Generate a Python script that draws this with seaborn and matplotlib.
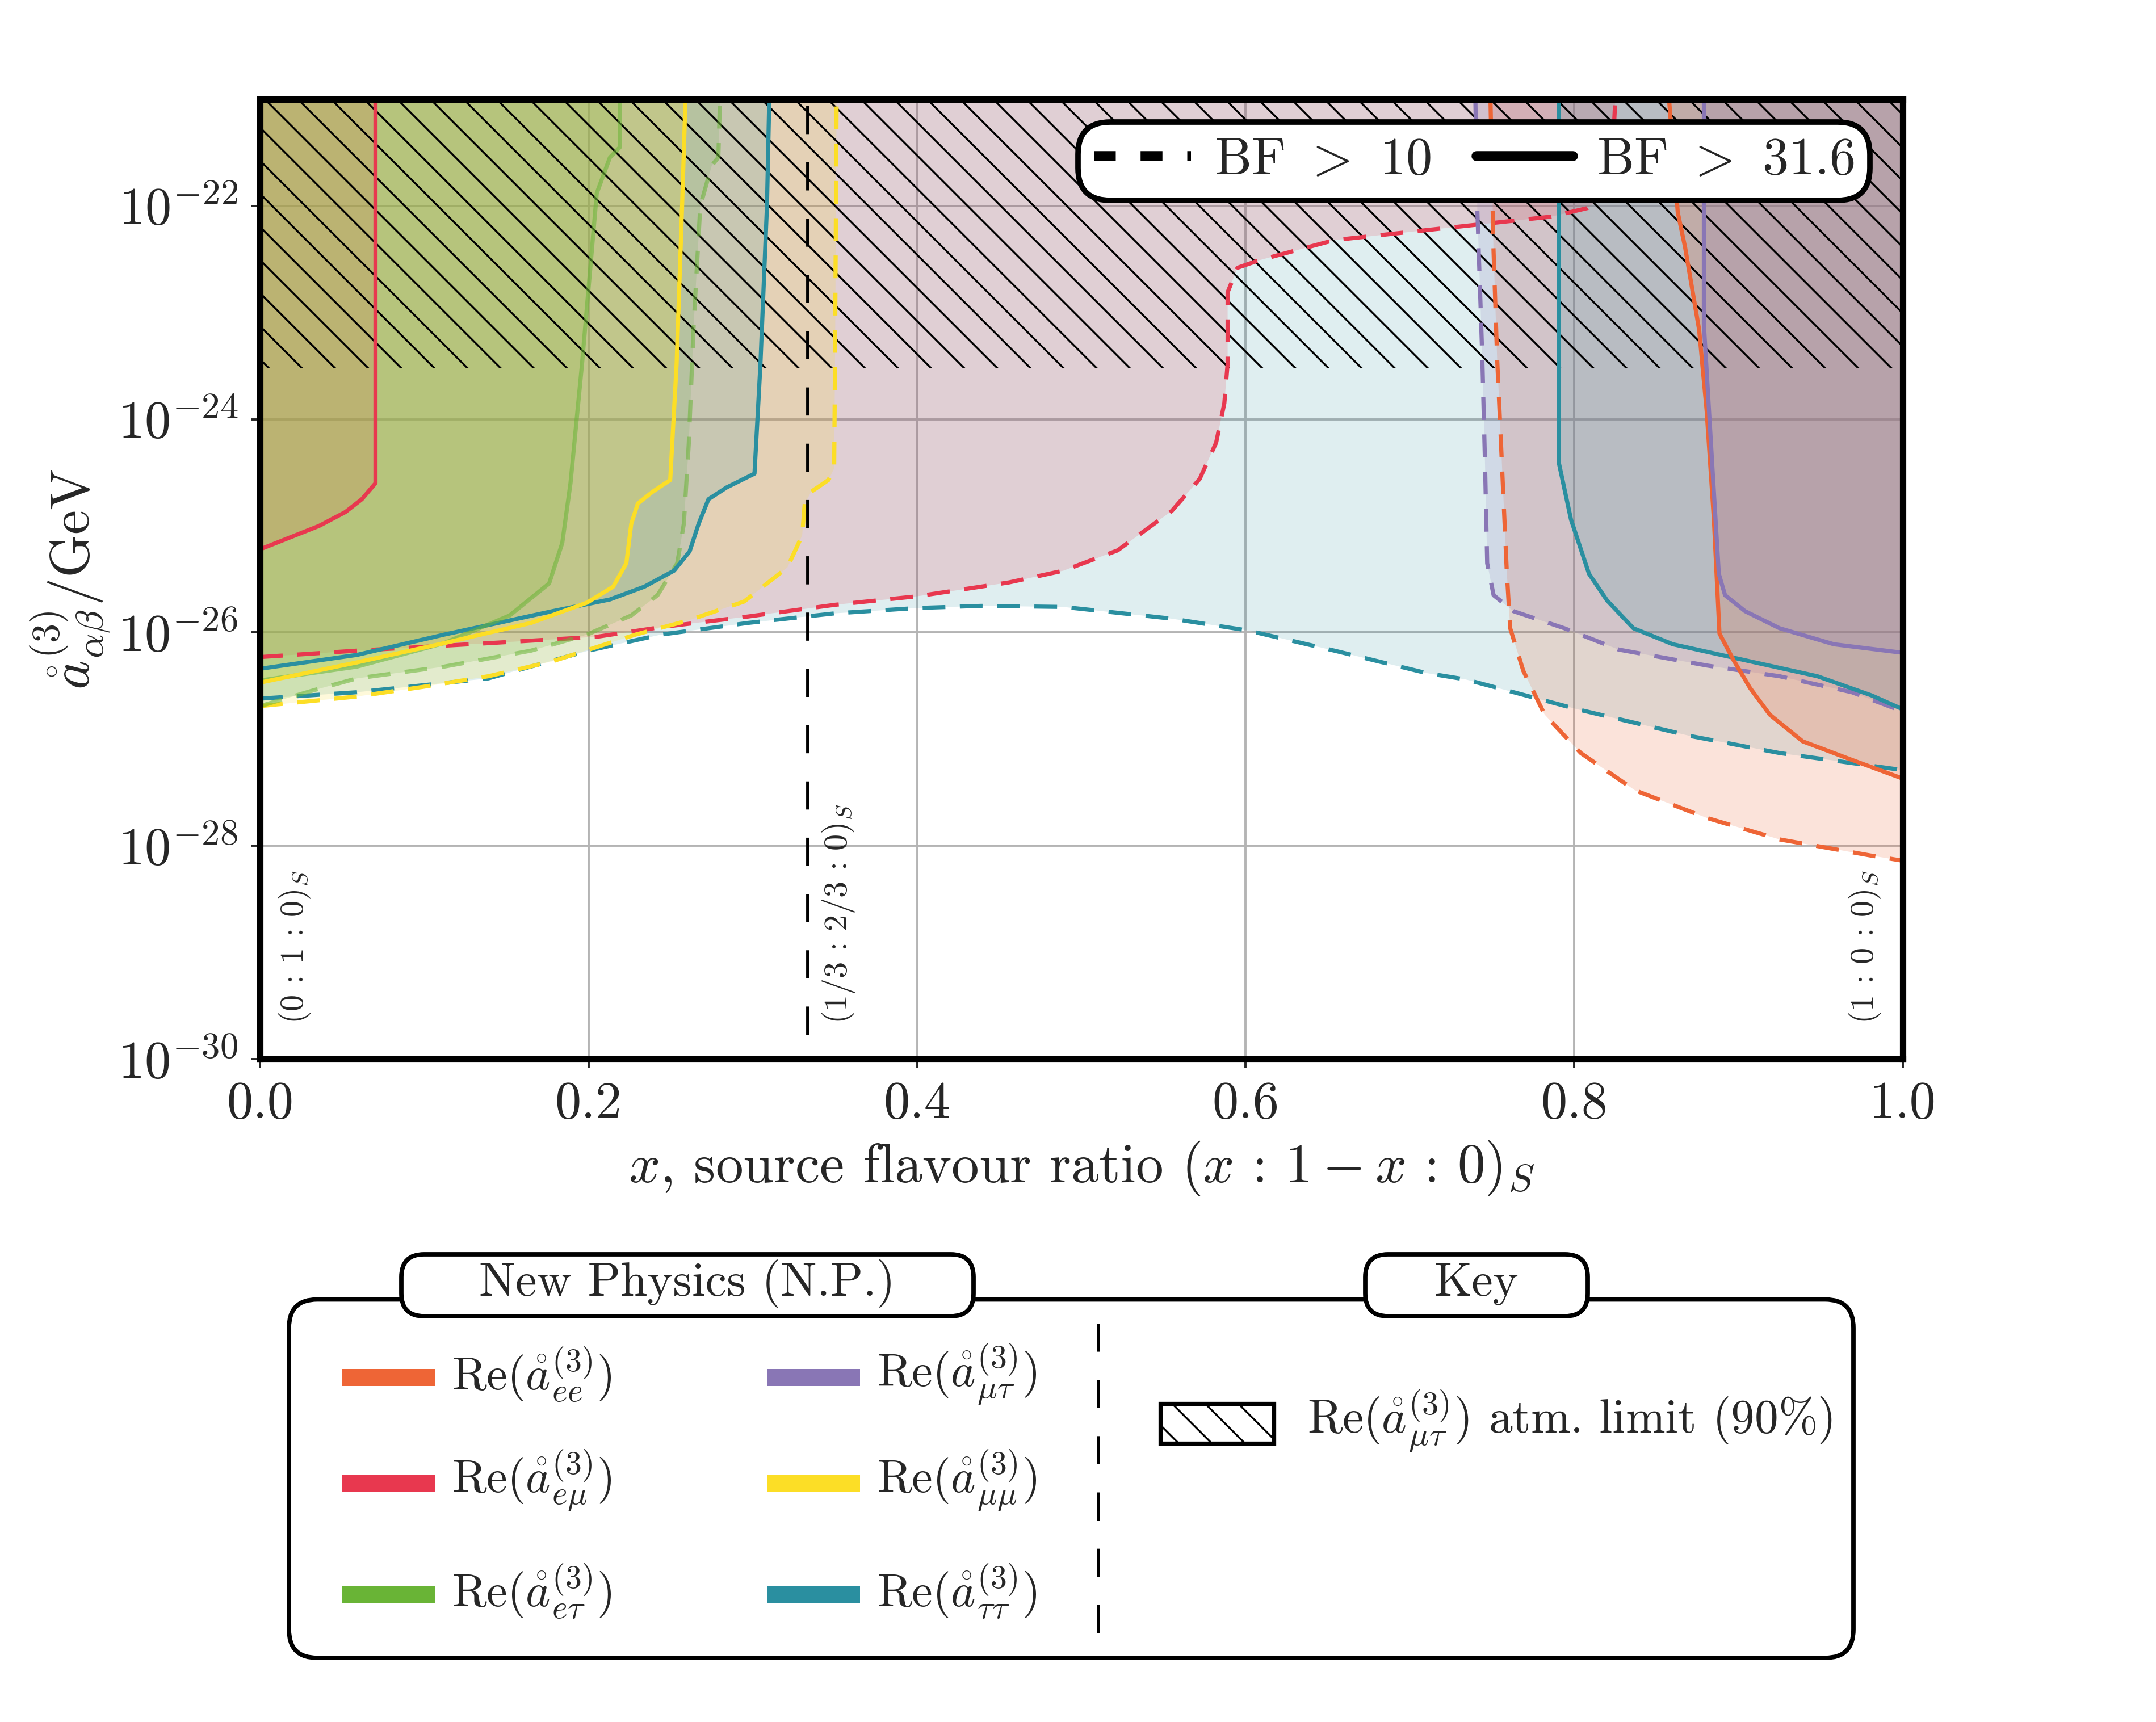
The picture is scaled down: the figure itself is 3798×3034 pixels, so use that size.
import numpy as np
import matplotlib
matplotlib.use("Agg")
import matplotlib.pyplot as plt
import seaborn as sns
from matplotlib.lines import Line2D
from matplotlib.patches import FancyBboxPatch, Rectangle
from matplotlib.ticker import NullLocator

# ==========================================
# DATA (x = source flavour ratio, logy = log10 of coefficient / GeV)
# ==========================================
TOP = -21.0
ATM_LIMIT = -23.52   # log10 of the atmospheric limit (hatched band)

ee_bf10_x = [0.749, 0.7508, 0.753, 0.756, 0.759, 0.761, 0.769, 0.782, 0.804, 0.837, 0.881, 0.925, 0.980, 1.0]
ee_bf10_logy = [-21.0, -22.39, -23.41, -24.43, -25.45, -25.96, -26.36, -26.77, -27.13, -27.48, -27.74, -27.94, -28.09, -28.14]
ee_bf31_x = [0.8577, 0.863, 0.8675, 0.876, 0.8806, 0.885, 0.8884, 0.897, 0.907, 0.919, 0.939, 0.970, 1.0]
ee_bf31_logy = [-21.0, -22.06, -22.39, -23.16, -23.92, -24.94, -26.01, -26.26, -26.52, -26.77, -27.02, -27.20, -27.37]

emu_bf10_x = [0.0, 0.059, 0.139, 0.205, 0.244, 0.297, 0.35, 0.40, 0.456, 0.489, 0.522, 0.555, 0.572,
              0.582, 0.587, 0.589, 0.589, 0.595, 0.608, 0.654, 0.72, 0.786, 0.808, 0.818, 0.823, 0.825]
emu_bf10_logy = [-26.23, -26.17, -26.10, -26.04, -25.95, -25.85, -25.74, -25.66, -25.53, -25.42, -25.23, -24.86, -24.56,
                 -24.22, -23.85, -23.48, -22.81, -22.58, -22.51, -22.32, -22.21, -22.10, -22.02, -21.9, -21.6, -21.0]
emu_bf31_x = [0.0, 0.036, 0.052, 0.062, 0.0703, 0.0703]
emu_bf31_logy = [-25.22, -25.0, -24.87, -24.75, -24.60, -21.0]

etau_bf10_x = [0.0, 0.033, 0.059, 0.112, 0.165, 0.199, 0.226, 0.242, 0.254, 0.258, 0.261, 0.264, 0.268, 0.275, 0.279, 0.280]
etau_bf10_logy = [-26.69, -26.54, -26.43, -26.32, -26.17, -26.02, -25.84, -25.65, -25.35, -24.98, -24.23, -23.11, -22.0, -21.62, -21.545, -21.0]
etau_bf31_x = [0.0, 0.059, 0.112, 0.152, 0.176, 0.184, 0.189, 0.196, 0.205, 0.213, 0.219, 0.219]
etau_bf31_logy = [-26.45, -26.32, -26.10, -25.84, -25.54, -25.16, -24.6, -23.485, -21.88, -21.545, -21.45, -21.0]

mutau_bf10_x = [0.7398, 0.741, 0.744, 0.7457, 0.747, 0.7509, 0.763, 0.794, 0.827, 0.881, 0.925, 0.969, 1.0]
mutau_bf10_logy = [-21.0, -22.04, -23.41, -24.43, -25.35, -25.65, -25.80, -25.96, -26.16, -26.31, -26.41, -26.56, -26.74]
mutau_bf31_x = [0.8789, 0.8789, 0.884, 0.888, 0.8918, 0.904, 0.925, 0.958, 1.0]
mutau_bf31_logy = [-21.0, -23.11, -24.43, -25.45, -25.65, -25.80, -25.96, -26.11, -26.19]

mumu_bf10_x = [0.0, 0.059, 0.099, 0.139, 0.178, 0.2285, 0.260, 0.2946, 0.321, 0.330, 0.3316, 0.3355, 0.346, 0.3495, 0.350, 0.351]
mumu_bf10_logy = [-26.69, -26.60, -26.51, -26.41, -26.27, -26.02, -25.89, -25.71, -25.39, -25.09, -24.79, -24.68, -24.57, -24.46, -23.49, -21.0]
mumu_bf31_x = [0.0, 0.059, 0.112, 0.165, 0.199, 0.215, 0.223, 0.226, 0.230, 0.239, 0.2497, 0.2536, 0.257, 0.259]
mumu_bf31_logy = [-26.47, -26.28, -26.10, -25.91, -25.72, -25.57, -25.35, -24.98, -24.79, -24.68, -24.57, -23.48, -21.97, -21.0]

tautau_bf10_x = [0.0, 0.059, 0.139, 0.2, 0.244, 0.297, 0.35, 0.40, 0.439, 0.489, 0.555, 0.601, 0.654, 0.71, 0.734, 0.802, 0.8706, 0.925, 1.0]
tautau_bf10_logy = [-26.62, -26.56, -26.43, -26.17, -26.02, -25.91, -25.82, -25.77, -25.75, -25.76, -25.87, -25.98, -26.17, -26.38, -26.44, -26.72, -26.97, -27.13, -27.29]
tautau_bf31_left_x = [0.0, 0.059, 0.112, 0.178, 0.213, 0.234, 0.252, 0.2615, 0.267, 0.273, 0.284, 0.301, 0.3046, 0.3086, 0.310]
tautau_bf31_left_logy = [-26.34, -26.21, -26.02, -25.80, -25.69, -25.57, -25.42, -25.24, -24.98, -24.75, -24.64, -24.51, -23.49, -22.0, -21.0]
tautau_bf31_right_x = [0.7905, 0.7905, 0.798, 0.809, 0.82, 0.836, 0.860, 0.904, 0.948, 0.981, 1.0]
tautau_bf31_right_logy = [-21.0, -24.40, -24.94, -25.45, -25.70, -25.96, -26.11, -26.26, -26.41, -26.59, -26.72]

colours = {
    "ee": "#EE6536", "emu": "#E8384F", "etau": "#69B436",
    "mutau": "#8976B5", "mumu": "#FCDE26", "tautau": "#2A8FA0",
}
fill_alpha = {"ee": 0.18, "emu": 0.17, "etau": 0.17, "mutau": 0.17, "mumu": 0.17, "tautau": 0.15}
subscripts = {
    "ee": "ee", "emu": r"e\mu", "etau": r"e\tau",
    "mutau": r"\mu\tau", "mumu": r"\mu\mu", "tautau": r"\tau\tau",
}
legend_order = ["ee", "emu", "etau", "mutau", "mumu", "tautau"]

# (key, x, logy, closing corner(s), linestyle) in drawing order
DASH = (0, (5.5, 3.5))
curves = [
    ("tautau", tautau_bf10_x, tautau_bf10_logy, [(1, TOP), (0, TOP)], DASH),
    ("emu", emu_bf10_x, emu_bf10_logy, [(0, TOP)], DASH),
    ("mumu", mumu_bf10_x, mumu_bf10_logy, [(0, TOP)], DASH),
    ("etau", etau_bf10_x, etau_bf10_logy, [(0, TOP)], DASH),
    ("ee", ee_bf10_x, ee_bf10_logy, [(1, TOP)], DASH),
    ("mutau", mutau_bf10_x, mutau_bf10_logy, [(1, TOP)], DASH),
    ("tautau", tautau_bf31_left_x, tautau_bf31_left_logy, [(0, TOP)], "-"),
    ("tautau", tautau_bf31_right_x, tautau_bf31_right_logy, [(1, TOP)], "-"),
    ("ee", ee_bf31_x, ee_bf31_logy, [(1, TOP)], "-"),
    ("emu", emu_bf31_x, emu_bf31_logy, [(0, TOP)], "-"),
    ("etau", etau_bf31_x, etau_bf31_logy, [(0, TOP)], "-"),
    ("mutau", mutau_bf31_x, mutau_bf31_logy, [(1, TOP)], "-"),
    ("mumu", mumu_bf31_x, mumu_bf31_logy, [(0, TOP)], "-"),
]

ratio_labels = [r"$(0\,:\,1\,:\,0)_S$", r"$(1/3\,:\,2/3\,:\,0)_S$", r"$(1\,:\,0\,:\,0)_S$"]
ratio_label_x = [0.021, 0.352, 0.977]
x_ticks = [0.0, 0.2, 0.4, 0.6, 0.8, 1.0]
x_tick_labels = ["0.0", "0.2", "0.4", "0.6", "0.8", "1.0"]
y_tick_exp = [-30, -28, -26, -24, -22]
bf_labels = [r"BF $>$ 10", r"BF $>$ 31.6"]


def main():
    sns.set_style("white")
    plt.rcParams["font.family"] = ["cmr10", "DejaVu Serif"]
    plt.rcParams["mathtext.fontset"] = "cm"
    plt.rcParams["axes.unicode_minus"] = False
    plt.rcParams["axes.formatter.use_mathtext"] = True
    plt.rcParams["hatch.linewidth"] = 0.7
    plt.rcParams["hatch.color"] = "black"

    W, H, DPI = 3798, 3034, 350
    fig = plt.figure(figsize=(W / DPI, H / DPI), dpi=DPI)
    ax = fig.add_axes([0.12059, 0.38497, 0.76198, 0.55735])
    ax.set_yscale("log")

    # --- filled regions ---
    for key, xs, ly, corners, ls in curves:
        px = list(xs) + [c[0] for c in corners]
        py = 10 ** np.array(list(ly) + [c[1] for c in corners])
        ax.fill(px, py, color=colours[key], alpha=fill_alpha[key], lw=0, zorder=1)

    # atmospheric limit hatch
    ax.fill_between([0, 1], 10 ** ATM_LIMIT, 10 ** TOP, facecolor="none",
                    edgecolor="k", hatch="\\\\", lw=0, zorder=2)

    # --- contour lines ---
    for key, xs, ly, corners, ls in curves:
        sns.lineplot(x=xs, y=10 ** np.array(ly), ax=ax, sort=False, estimator=None,
                     color=colours[key], linewidth=1.5,
                     alpha=0.55 if key == "etau" else 1.0, zorder=3)
        ax.lines[-1].set_linestyle(ls)

    ax.axvline(1 / 3, ymin=0.0256, ymax=1, color="k", lw=1.2, ls=(0, (8.5, 8.5)), zorder=3)

    for lab, xl in zip(ratio_labels, ratio_label_x):
        ax.text(xl, 10 ** -29.67, lab, rotation=90, ha="center", va="bottom", fontsize=12, zorder=4)

    ax.set_xlim(0, 1)
    ax.set_ylim(10 ** -30, 10 ** TOP)
    ax.set_xticks(x_ticks, x_tick_labels)
    ax.set_yticks([10.0 ** e for e in y_tick_exp], [r"$10^{%d}$" % e for e in y_tick_exp])
    ax.yaxis.set_minor_locator(NullLocator())
    ax.tick_params(axis="both", direction="out", length=3, width=0.8, labelsize=19, pad=5,
                   left=True, bottom=True)
    ax.grid(True, color="#b4b4b4", lw=0.8)
    ax.set_axisbelow(True)
    for sp in ax.spines.values():
        sp.set_linewidth(2.3)
        sp.set_color("k")
        sp.set_zorder(6)

    ax.set_xlabel(r"$x$, source flavour ratio $(x\,:\,1-x\,:\,0)_S$", fontsize=20, labelpad=4)
    ax.set_ylabel(r"$\mathring{a}^{(3)}_{\alpha\beta}$/GeV", fontsize=20, labelpad=2)

    # --- BF legend ---
    handles = [Line2D([], [], color="k", lw=3.6, ls=(0, (2.2, 2.5))),
               Line2D([], [], color="k", lw=3.6)]
    leg = ax.legend(handles, bf_labels, loc="center", bbox_to_anchor=(0.498, 0.891, 0.482, 0.089),
                    mode="expand", ncol=2, fontsize=19, handlelength=1.85, handletextpad=0.45,
                    borderpad=0.3, borderaxespad=0, frameon=True, fancybox=True,
                    framealpha=1, edgecolor="k")
    leg.get_frame().set_linewidth(2.0)
    leg.get_frame().set_boxstyle("round,pad=0,rounding_size=0.62")
    leg.set_zorder(10)

    # --- lower key panel (pixel coordinates of the figure) ---
    lax = fig.add_axes([0, 0, 1, 1], zorder=5)
    lax.set_xlim(0, W)
    lax.set_ylim(H, 0)
    lax.axis("off")

    lax.add_patch(FancyBboxPatch((509, 2289.5), 2756, 631.5, boxstyle="round,pad=0,rounding_size=50",
                                 fc="white", ec="k", lw=1.6, zorder=1))
    for x0, w, title in [(707, 1008, "New Physics (N.P.)"), (2405, 392, "Key")]:
        lax.add_patch(FancyBboxPatch((x0, 2210), w, 109, boxstyle="round,pad=0,rounding_size=40",
                                     fc="white", ec="k", lw=1.6, zorder=2))
        lax.text(x0 + w / 2, 2262, title, ha="center", va="center", fontsize=17.5, zorder=3)

    lax.vlines(1935, 2332, 2879, color="k", lw=1.2, linestyles=[(0, (8.5, 8.5))], zorder=2)

    row_y = [2427, 2614, 2809]
    patch_x = [602, 1351]
    text_x = [796, 1545]
    for i, key in enumerate(legend_order):
        col, row = divmod(i, 3)
        lax.add_patch(Rectangle((patch_x[col], row_y[row] - 15), 164, 30,
                                fc=colours[key], lw=0, zorder=2))
        lax.text(text_x[col], row_y[row] - 4,
                 r"Re$(\mathring{a}^{(3)}_{%s})$" % subscripts[key],
                 ha="left", va="center", fontsize=17, zorder=3)

    lax.add_patch(Rectangle((2044, 2473), 200, 70, fc="white", ec="k", hatch="\\\\", lw=1.5, zorder=2))
    lax.text(2303, 2504, r"Re$(\mathring{a}^{(3)}_{\mu\tau})$ atm. limit (90%)",
             ha="left", va="center", fontsize=17.2, zorder=3)

    fig.savefig("out.png", dpi=DPI)


if __name__ == "__main__":
    main()
